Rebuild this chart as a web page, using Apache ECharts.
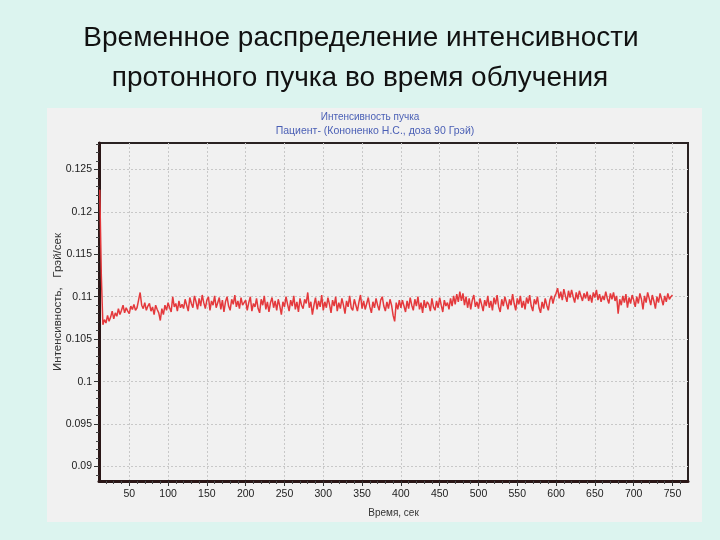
<!DOCTYPE html>
<html><head><meta charset="utf-8">
<script src="https://cdn.jsdelivr.net/npm/echarts@6/dist/echarts.min.js"></script>
<style>html,body{margin:0;padding:0;background:#dcf4ef;}#c{width:720px;height:540px;}</style>
</head><body><div id="c"></div>
<script>
const slideTitle = ['Временное распределение интенсивности', 'протонного пучка во время облучения'];
const chartTitle = ['Интенсивность пучка', 'Пациент- (Кононенко Н.С., доза 90 Грэй)'];
const xAxisName = 'Время, сек';
const yAxisName = 'Интенсивность,   Грэй/сек';
const xTickValues = [50,100,150,200,250,300,350,400,450,500,550,600,650,700,750];
const yTickValues = [0.09,0.095,0.1,0.105,0.11,0.115,0.12,0.125];
const xRange = [11, 770];
const yRange = [0.0883, 0.1281];
const sampleStart = 12;   // seconds
const sampleStep = 2;     // seconds between samples
const intensity = [
0.1226,0.1125,0.1067,0.1073,0.1069,0.1078,0.1071,0.1076,0.1083,0.1074,
0.1081,0.1077,0.1086,0.1079,0.1084,0.1090,0.1081,0.1087,0.1083,0.1080,
0.1089,0.1085,0.1091,0.1084,0.1087,0.1096,0.1105,0.1090,0.1086,0.1093,
0.1084,0.1089,0.1092,0.1083,0.1088,0.1079,0.1090,0.1085,0.1081,0.1072,
0.1086,0.1079,0.1090,0.1084,0.1093,0.1087,0.1082,0.1100,0.1088,0.1092,
0.1083,0.1095,0.1087,0.1091,
0.1086,0.1097,0.1090,0.1083,0.1099,0.1092,0.1087,0.1101,0.1094,0.1085,
0.1098,0.1089,0.1102,0.1093,0.1086,0.1096,0.1100,0.1084,0.1095,0.1090,
0.1101,0.1087,0.1093,0.1099,0.1085,0.1096,0.1082,0.1094,0.1100,0.1089,
0.1084,0.1097,0.1091,0.1102,0.1088,0.1095,0.1086,0.1099,0.1090,0.1093,
0.1096,0.1084,0.1093,0.1100,0.1083,0.1092,0.1088,0.1098,0.1086,0.1081,
0.1097,0.1090,0.1101,0.1085,0.1094,0.1082,0.1093,0.1099,0.1087,0.1095,
0.1084,0.1097,0.1089,0.1079,0.1094,0.1088,0.1100,0.1091,0.1083,0.1096,
0.1089,0.1101,0.1085,0.1094,0.1082,0.1098,0.1090,0.1086,0.1097,0.1092,
0.1105,0.1087,0.1094,0.1079,0.1090,0.1099,0.1085,0.1095,0.1088,0.1102,
0.1084,0.1094,0.1087,0.1099,0.1091,0.1081,0.1096,0.1089,0.1100,0.1083,
0.1093,0.1086,0.1098,0.1090,0.1080,0.1095,0.1088,0.1101,0.1087,0.1084,
0.1097,0.1090,0.1083,0.1094,0.1102,0.1086,0.1095,0.1085,0.1092,0.1099,
0.1088,0.1081,0.1094,0.1087,0.1098,0.1090,0.1084,0.1096,0.1100,0.1089,
0.1083,0.1094,0.1086,0.1097,0.1090,0.1078,0.1071,0.1093,0.1085,0.1096,
0.1087,0.1096,0.1089,0.1082,0.1095,0.1086,0.1099,0.1090,0.1084,0.1097,
0.1089,0.1100,0.1085,0.1093,0.1081,0.1096,0.1087,0.1094,0.1091,0.1083,
0.1098,0.1088,0.1084,0.1095,0.1087,0.1099,0.1090,0.1082,0.1096,0.1089,
0.1093,0.1085,0.1098,0.1089,0.1101,0.1091,0.1103,0.1094,0.1106,0.1095,
0.1104,0.1090,0.1100,0.1087,0.1098,0.1085,0.1096,0.1102,0.1088,0.1094,
0.1086,0.1098,0.1091,0.1083,0.1096,0.1089,0.1101,0.1087,0.1095,0.1084,
0.1099,0.1091,0.1102,0.1088,0.1082,0.1097,0.1089,0.1100,0.1093,0.1085,
0.1097,0.1090,0.1103,0.1092,0.1084,0.1098,0.1091,0.1101,0.1087,0.1095,
0.1085,0.1099,0.1092,0.1102,0.1089,0.1083,0.1097,0.1091,0.1100,0.1087,
0.1081,0.1094,0.1086,0.1098,0.1090,0.1084,0.1096,0.1101,0.1092,0.1100,
0.1104,0.1110,0.1098,0.1106,0.1096,0.1109,0.1101,0.1094,0.1107,0.1099,
0.1108,0.1100,0.1093,0.1105,0.1097,0.1107,0.1101,0.1095,0.1104,0.1098,
0.1106,0.1095,0.1102,0.1093,0.1105,0.1099,0.1108,0.1096,0.1103,0.1094,
0.1101,0.1096,0.1106,0.1098,0.1092,0.1104,0.1097,0.1105,0.1095,0.1101,
0.1080,0.1097,0.1090,0.1101,0.1093,0.1103,0.1087,0.1099,0.1092,0.1102,
0.1096,0.1088,0.1100,0.1092,0.1104,0.1097,0.1085,0.1101,0.1093,0.1105,
0.1098,0.1090,0.1102,0.1095,0.1086,0.1100,0.1093,0.1104,0.1097,0.1090,
0.1101,0.1094,0.1104,0.1097,0.1100,0.1102
];

// minor tick positions (every 10 s, every 0.001 Gy/s), skipping majors
const xMinorTicks = [];
for (let v = 20; v <= 760; v += 10) if (v % 50 !== 0) xMinorTicks.push(v);
const yMinorTicks = [];
for (let k = 89; k <= 128; k++) if (k % 5 !== 0) yMinorTicks.push(k / 1000);

const seriesData = intensity.map((v, i) => [sampleStart + i * sampleStep, v]);

const axisDark = '#2a1616';
const labelFont = { fontFamily: 'Liberation Sans', fontSize: 10.5, color: '#222' };

const chart = echarts.init(document.getElementById('c'), null, { renderer: 'canvas' });
chart.setOption({
  animation: false,
  backgroundColor: '#dcf4ef',
  graphic: [
    { type: 'rect', z: -5, shape: { x: 47, y: 108, width: 655, height: 414 }, style: { fill: '#f1f1f1' } },
    { type: 'text', x: 361, y: 38, style: { text: slideTitle[0], font: '28px "Liberation Sans"', fill: '#111', textAlign: 'center', textVerticalAlign: 'middle' } },
    { type: 'text', x: 360, y: 78, style: { text: slideTitle[1], font: '28px "Liberation Sans"', fill: '#111', textAlign: 'center', textVerticalAlign: 'middle' } },
    { type: 'text', x: 370, y: 117, style: { text: chartTitle[0], font: '10px "Liberation Sans"', fill: '#4a5fb5', textAlign: 'center', textVerticalAlign: 'middle' } },
    { type: 'text', x: 375, y: 131, style: { text: chartTitle[1], font: '10.5px "Liberation Sans"', fill: '#4a5fb5', textAlign: 'center', textVerticalAlign: 'middle' } },
    { type: 'text', x: 58, y: 302, rotation: Math.PI / 2, style: { text: yAxisName, font: '11.5px "Liberation Sans"', fill: '#333', textAlign: 'center', textVerticalAlign: 'middle' } }
  ],
  grid: {
    left: 99, top: 143, right: 32, bottom: 59,
    show: true, backgroundColor: '#f1f1f1', borderColor: '#2a2222', borderWidth: 2
  },
  xAxis: [
    {
      type: 'value', min: xRange[0], max: xRange[1], position: 'bottom',
      name: xAxisName, nameLocation: 'middle', nameGap: 27,
      nameTextStyle: { fontFamily: 'Liberation Sans', fontSize: 10, color: '#333' },
      axisLine: { show: true, onZero: false, lineStyle: { color: axisDark, width: 3 } },
      axisTick: { show: true, inside: false, length: 5, customValues: xTickValues, lineStyle: { color: '#333', width: 1 } },
      axisLabel: Object.assign({ margin: 8, customValues: xTickValues }, labelFont),
      splitLine: { show: true, lineStyle: { color: '#c8c8c8', type: [2, 2], width: 1 } }
    },
    {
      type: 'value', min: xRange[0], max: xRange[1], position: 'bottom', offset: 0,
      axisLine: { show: false },
      axisTick: { show: true, length: 3, customValues: xMinorTicks, lineStyle: { color: '#444', width: 1 } },
      axisLabel: { show: false },
      splitLine: { show: false }
    }
  ],
  yAxis: [
    {
      type: 'value', min: yRange[0], max: yRange[1], position: 'left',
      axisLine: { show: true, onZero: false, lineStyle: { color: axisDark, width: 3 } },
      axisTick: { show: true, inside: false, length: 5, customValues: yTickValues, lineStyle: { color: '#333', width: 1 } },
      axisLabel: Object.assign({ margin: 7, customValues: yTickValues }, labelFont),
      splitLine: { show: true, lineStyle: { color: '#c8c8c8', type: [2, 2], width: 1 } }
    },
    {
      type: 'value', min: yRange[0], max: yRange[1], position: 'left', offset: 0,
      axisLine: { show: false },
      axisTick: { show: true, length: 3, customValues: yMinorTicks, lineStyle: { color: '#444', width: 1 } },
      axisLabel: { show: false },
      splitLine: { show: false }
    }
  ],
  series: [{
    type: 'line', xAxisIndex: 0, yAxisIndex: 0,
    data: seriesData, showSymbol: false, symbol: 'none',
    lineStyle: { color: '#e4393c', width: 1.5 },
    z: 3
  }]
});
</script>
</body></html>
